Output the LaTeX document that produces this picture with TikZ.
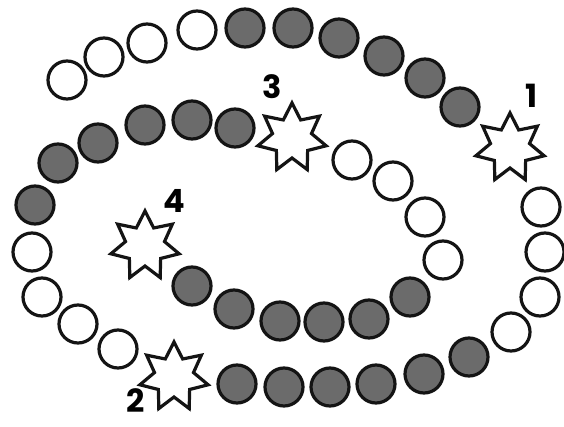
\documentclass[tikz,border=0pt]{standalone}
\usepackage{fontspec}
\newfontfamily\numfont{Poppins}
\usetikzlibrary{shapes.geometric}

\begin{document}
\begin{tikzpicture}[
  x=1pt,y=-1pt,
  stone/.style={circle,draw=black!92,line width=3.2pt,minimum size=38pt,inner sep=0pt},
  wc/.style={stone,fill=white},
  gc/.style={stone,fill=black!58},
  burst/.style={star,star points=7,star point ratio=1.75,draw=black!92,
                line width=3.2pt,fill=white,minimum size=70pt,inner sep=0pt},
  num/.style={font=\numfont\bfseries\fontsize{32}{32}\selectfont,inner sep=0pt}
]
\useasboundingbox (0,0) rectangle (564,427);
% ---- outer track ----
\foreach \x/\y [count=\i] in {67/80,104/57,147/43,197/30}
  \node[wc] (ow\i) at (\x,\y) {};
\foreach \x/\y [count=\i] in {245/28,293/28,339/38,384/56,425/78,460/107}
  \node[gc] (og\i) at (\x,\y) {};
\node[burst] (s1) at (510,148) {};
\foreach \x/\y [count=\i] in {541/207,545/252,540/297,511/332}
  \node[wc] (rw\i) at (\x,\y) {};
\foreach \x/\y [count=\i] in {469/357,424/374,376/384,330/387,284/387,237/384}
  \node[gc] (bg\i) at (\x,\y) {};
\node[burst] (s2) at (174,377) {};
\foreach \x/\y [count=\i] in {118/349,78/324,42/297,32/252}
  \node[wc] (lw\i) at (\x,\y) {};
% ---- inner track ----
\foreach \x/\y [count=\i] in {35/205,58/163,98/143,145/125,192/120,235/128}
  \node[gc] (ig\i) at (\x,\y) {};
\node[burst] (s3) at (292,138) {};
\foreach \x/\y [count=\i] in {352/160,393/181,425/217,443/260}
  \node[wc] (iw\i) at (\x,\y) {};
\foreach \x/\y [count=\i] in {410/297,369/319,324/322,280/321,234/309,192/286}
  \node[gc] (cg\i) at (\x,\y) {};
\node[burst] (s4) at (145,246) {};
% ---- numbers ----
\node[num] (n1) at (532,96) {1};
\node[num] (n2) at (136,401) {2};
\node[num] (n3) at (272,87) {3};
\node[num] (n4) at (174,201) {4};
\end{tikzpicture}
\end{document}
